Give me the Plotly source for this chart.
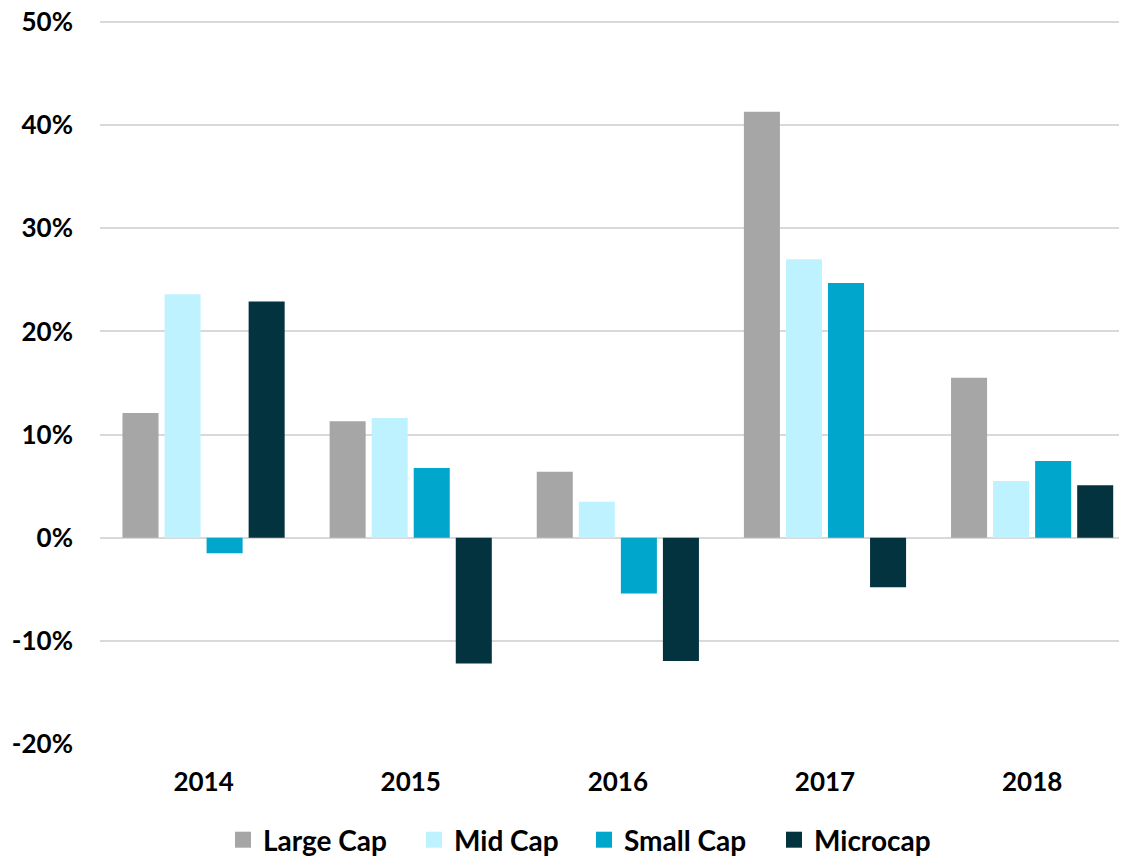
import plotly.graph_objects as go

years = ["2014", "2015", "2016", "2017", "2018"]
series_names = ["Large Cap", "Mid Cap", "Small Cap", "Microcap"]
large_cap = [12.1, 11.3, 6.4, 41.3, 15.5]
mid_cap = [23.6, 11.6, 3.5, 27.0, 5.5]
small_cap = [-1.5, 6.75, -5.4, 24.7, 7.45]
microcap = [22.9, -12.2, -11.95, -4.8, 5.1]
colors = ["#A6A6A6", "#BFF2FF", "#00A6CC", "#02333F"]
y_tick_vals = [-20, -10, 0, 10, 20, 30, 40, 50]
y_tick_text = ["-20%", "-10%", "0%", "10%", "20%", "30%", "40%", "50%"]

series_values = [large_cap, mid_cap, small_cap, microcap]

# page body has an 8px margin; size the figure to fill the rest of the window
W, H = 1119, 848
ML, MR, MT, MB = 92, 0, 12, 112
plot_w = W - ML - MR

legend_square_centers = [245, 436, 606, 796]  # window px, used only for legend placement
legend_center_y = 840  # window px

fig = go.Figure()
for name, vals, col in zip(series_names, series_values, colors):
    fig.add_trace(go.Bar(
        x=years, y=vals, name=name,
        marker=dict(color=col, line=dict(width=0)),
        showlegend=False,
    ))

legend_layouts = {}
for i, (name, col) in enumerate(zip(series_names, colors)):
    lg = "legend" if i == 0 else f"legend{i + 1}"
    fig.add_trace(go.Scatter(
        x=[None], y=[None], mode="markers", name=name,
        marker=dict(symbol="square", size=19, color=col),
        showlegend=True, legend=lg,
    ))
    cx = legend_square_centers[i] - 8 - ML - 22
    legend_layouts[lg] = dict(
        orientation="h", x=cx / plot_w, xanchor="left",
        yref="container", y=(H - (legend_center_y - 8)) / H, yanchor="middle",
        font=dict(size=28, family="Lato", weight="bold", color="#000000"),
        itemclick=False, bgcolor="rgba(0,0,0,0)",
    )

fig.update_layout(
    width=W, height=H,
    margin=dict(l=ML, r=MR, t=MT, b=MB),
    paper_bgcolor="white", plot_bgcolor="white",
    barmode="group", bargap=0.188, bargroupgap=0.143,
    font=dict(family="Lato, sans-serif", color="#000000"),
    xaxis=dict(
        range=[-0.5, 4.458], showgrid=False, zeroline=False, showline=False,
        tickfont=dict(size=26, family="Lato", weight="bold"),
        ticklabelstandoff=20, automargin=False,
    ),
    yaxis=dict(
        range=[-20, 50.2], tickvals=y_tick_vals, ticktext=y_tick_text,
        showgrid=True, gridcolor="#D9D9D9", gridwidth=1.5,
        zeroline=True, zerolinecolor="#D9D9D9", zerolinewidth=1.5,
        tickfont=dict(size=26, family="Lato", weight="bold"),
        ticklabelstandoff=26, ticklabeloverflow="allow", automargin=False,
    ),
    **legend_layouts,
)

fig.write_html("out.html")
